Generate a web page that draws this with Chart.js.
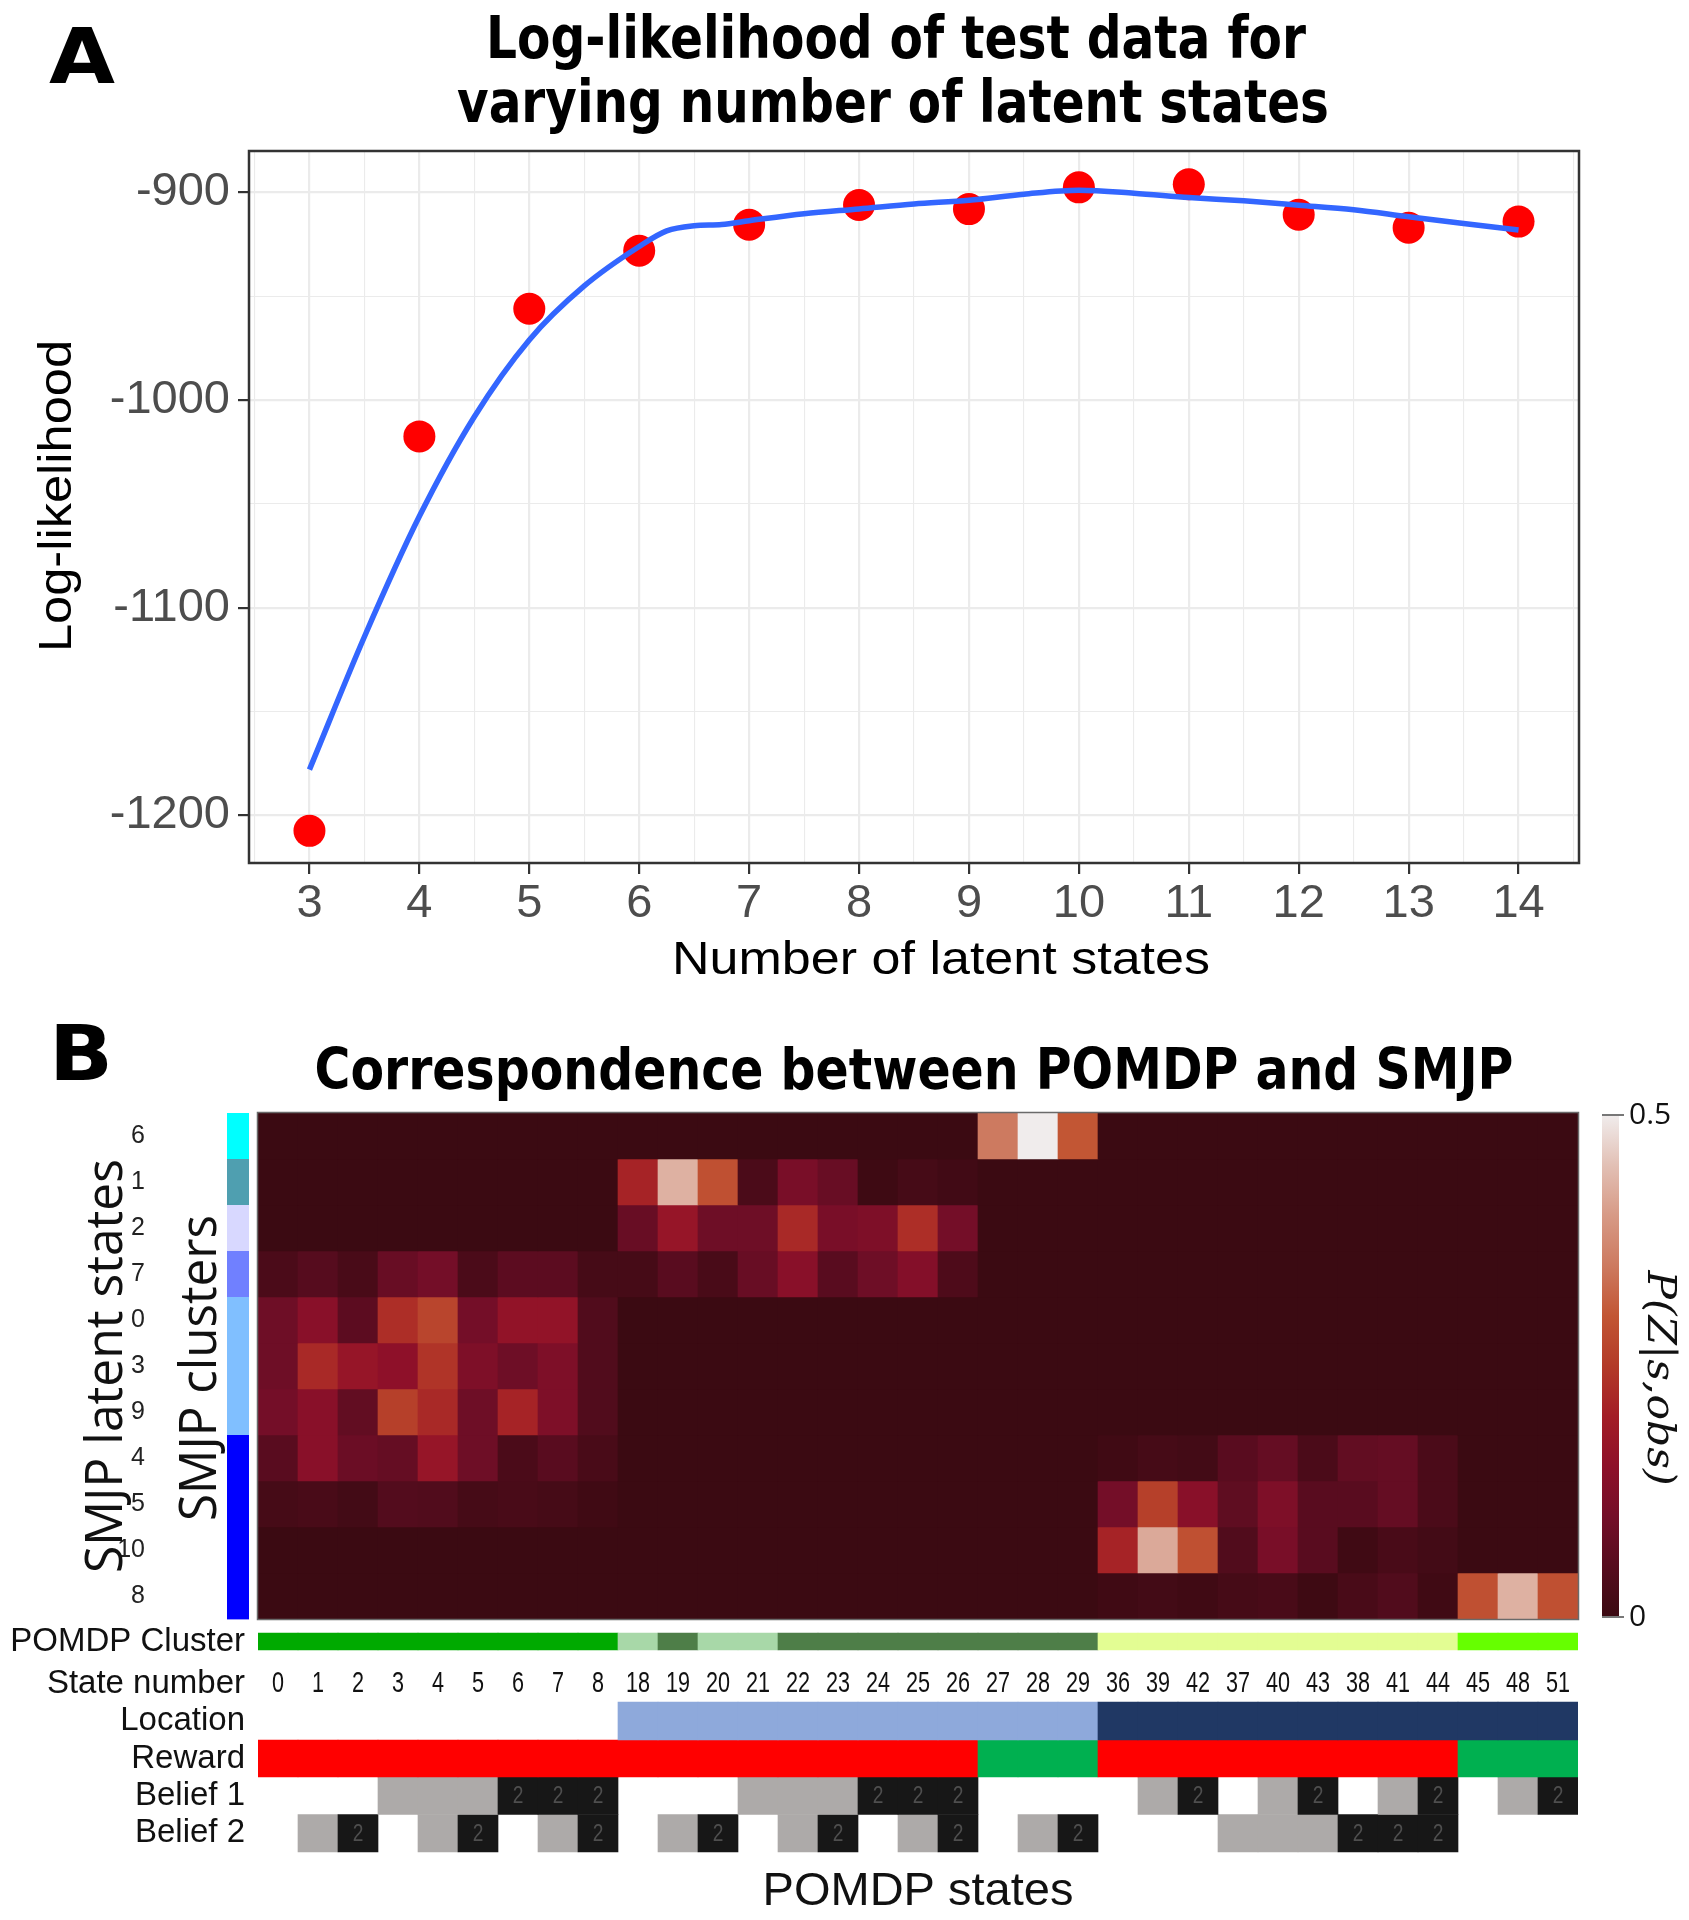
<!DOCTYPE html>
<html>
<head>
<meta charset="utf-8">
<title>Log-likelihood and POMDP/SMJP correspondence</title>
<script src="https://cdn.jsdelivr.net/npm/chart.js@4.4.1/dist/chart.umd.min.js"></script>
<style>
  html, body { margin:0; padding:0; background:#ffffff; overflow:hidden; }
  #page { position:relative; width:1689px; height:1920px; background:#ffffff; }
  #chartA { position:absolute; left:0; top:0; }
  #chartB { position:absolute; left:0; top:1000px; }
</style>
</head>
<body>
<div id="page">
  <canvas id="chartA" width="1689" height="1000"></canvas>
  <canvas id="chartB" width="1689" height="920"></canvas>
</div>
<script>
// ================= Panel A data =================
const latentStateCounts = [3, 4, 5, 6, 7, 8, 9, 10, 11, 12, 13, 14];
const testLogLikelihood = [-1207.5, -1017.5, -956, -928, -915.5, -906, -908, -897.5, -896, -910.7, -917, -914];
// loess smoother
const smoothX = [3, 3.5, 4, 4.5, 5, 5.5, 6, 6.25, 6.5, 6.75, 7, 7.5, 8, 8.5, 9, 9.5, 10, 10.5, 11, 11.5, 12, 12.5, 13, 13.5, 14];
const smoothY = [-1178, -1114, -1056, -1008, -971, -945, -926, -918.5, -916, -915.4, -913.6, -910.2, -907.9, -905.5, -903.7, -900.8, -898.9, -900.3, -902.4, -904, -906.1, -908.3, -911.7, -914.9, -918.1];
const llMajorTicks = [-1200, -1100, -1000, -900];
const llMinorTicks = [-1150, -1050, -950];
const stateMajorTicks = [3, 4, 5, 6, 7, 8, 9, 10, 11, 12, 13, 14];
const stateMinorTicks = [2.5, 3.5, 4.5, 5.5, 6.5, 7.5, 8.5, 9.5, 10.5, 11.5, 12.5, 13.5, 14.5];

// ================= Panel B data =================
const pomdpStateLabels = ['0','1','2','3','4','5','6','7','8','18','19','20','21','22','23','24','25','26','27','28','29','36','39','42','37','40','43','38','41','44','45','48','51'];
const smjpLatentStates = ['6','1','2','7','0','3','9','4','5','10','8'];
const smjpClusterColors = ['#00FFFF','#4F9FB0','#D8D8FF','#7080FF','#80BFFF','#80BFFF','#80BFFF','#0000FF','#0000FF','#0000FF','#0000FF'];
// P(Z | s, obs): one row per SMJP latent state (top to bottom), one value per POMDP state column
const pzRows = [
  [0,0,0,0,0,0,0,0,0, 0,0,0,0,0,0,0,0,0, 0.35,0.5,0.3, 0,0,0,0,0,0,0,0,0, 0,0,0],
  [0,0,0,0,0,0,0,0,0, 0.21,0.43,0.29,0.03,0.11,0.08,0.005,0.02,0.012, 0,0,0, 0,0,0,0,0,0,0,0,0, 0,0,0],
  [0,0,0,0,0,0,0,0,0, 0.08,0.17,0.09,0.09,0.22,0.11,0.12,0.23,0.1, 0,0,0, 0,0,0,0,0,0,0,0,0, 0,0,0],
  [0.03,0.05,0.025,0.08,0.1,0.03,0.06,0.06,0.02, 0.02,0.055,0.025,0.08,0.14,0.055,0.09,0.13,0.035, 0,0,0, 0,0,0,0,0,0,0,0,0, 0,0,0],
  [0.09,0.14,0.06,0.23,0.27,0.1,0.16,0.16,0.04, 0,0,0,0,0,0,0,0,0, 0,0,0, 0,0,0,0,0,0,0,0,0, 0,0,0],
  [0.09,0.22,0.17,0.15,0.24,0.12,0.09,0.12,0.04, 0,0,0,0,0,0,0,0,0, 0,0,0, 0,0,0,0,0,0,0,0,0, 0,0,0],
  [0.1,0.14,0.07,0.26,0.22,0.09,0.21,0.12,0.04, 0,0,0,0,0,0,0,0,0, 0,0,0, 0,0,0,0,0,0,0,0,0, 0,0,0],
  [0.055,0.14,0.085,0.075,0.17,0.09,0.03,0.055,0.025, 0,0,0,0,0,0,0,0,0, 0,0,0, 0.01,0.02,0.015,0.055,0.075,0.03,0.07,0.075,0.03, 0,0,0],
  [0.02,0.025,0.015,0.045,0.04,0.02,0.025,0.02,0.01, 0,0,0,0,0,0,0,0,0, 0,0,0, 0.1,0.26,0.14,0.065,0.12,0.055,0.055,0.075,0.03, 0,0,0],
  [0,0,0,0,0,0,0,0,0, 0,0,0,0,0,0,0,0,0, 0,0,0, 0.21,0.42,0.29,0.04,0.11,0.055,0.01,0.025,0.015, 0,0,0],
  [0,0,0,0,0,0,0,0,0, 0,0,0,0,0,0,0,0,0, 0,0,0, 0.01,0.015,0.01,0.02,0.025,0.005,0.025,0.04,0.01, 0.29,0.43,0.29]
];
const pomdpClusterIds = [1,1,1,1,1,1,1,1,1, 2,3,2,2,3,3,3,3,3,3,3,3, 4,4,4,4,4,4,4,4,4, 5,5,5];
const pomdpClusterPalette = ['#FFFFFF','#00AA00','#A8D8A8','#4E7E48','#E3FD93','#66FF00'];
const locationIds = [0,0,0,0,0,0,0,0,0, 1,1,1,1,1,1,1,1,1,1,1,1, 2,2,2,2,2,2,2,2,2,2,2,2];
const locationPalette = ['rgba(0,0,0,0)','#8EA9DB','#203864'];
const rewardIds = [0,0,0,0,0,0,0,0,0, 0,0,0,0,0,0,0,0,0, 1,1,1, 0,0,0,0,0,0,0,0,0, 1,1,1];
const rewardPalette = ['#FF0000','#00B050'];
const belief1 = [0,0,0,1,1,1,2,2,2, 0,0,0,1,1,1,2,2,2, 0,0,0, 0,1,2,0,1,2,0,1,2, 0,1,2];
const belief2 = [0,1,2,0,1,2,0,1,2, 0,1,2,0,1,2,0,1,2, 0,1,2, 0,0,0,1,1,1,2,2,2, 0,0,0];
const beliefPalette = ['rgba(0,0,0,0)','#ADAAA9','#171717'];
const pzColorbarTicks = [0, 0.5];
const annoRowLabels = ['POMDP Cluster','State number','Location','Reward','Belief 1','Belief 2'];

// colour map for P(Z|s,obs)
const pzColorStops = [
  [0.00,'#3B0A12'],[0.05,'#560C1E'],[0.10,'#740E28'],[0.15,'#8E1029'],[0.20,'#A31D26'],
  [0.25,'#B33A28'],[0.30,'#C25634'],[0.35,'#CD7A60'],[0.40,'#D79A86'],[0.45,'#E2C0B5'],[0.50,'#F0ECEC']
];

// ================= helpers =================
const SANS = "'Liberation Sans', Arial, Helvetica, sans-serif";
function hexRgb(h){ h=h.replace('#',''); return [parseInt(h.slice(0,2),16),parseInt(h.slice(2,4),16),parseInt(h.slice(4,6),16)]; }
function pzColor(v){
  v = Math.max(0, Math.min(0.5, v));
  for (let i = 1; i < pzColorStops.length; i++) {
    const [v1,c1] = pzColorStops[i];
    if (v <= v1) {
      const [v0,c0] = pzColorStops[i-1];
      const t = (v - v0) / (v1 - v0);
      const a = hexRgb(c0), b = hexRgb(c1);
      return 'rgb(' + a.map((x,k)=>Math.round(x + (b[k]-x)*t)).join(',') + ')';
    }
  }
  return pzColorStops[pzColorStops.length-1][1];
}
function drawText(ctx, text, x, y, o){
  ctx.save();
  ctx.font = o.font;
  ctx.fillStyle = o.color || '#000';
  ctx.textAlign = o.align || 'center';
  ctx.textBaseline = o.baseline || 'middle';
  ctx.translate(x, y);
  if (o.rotate) ctx.rotate(o.rotate);
  let sx = o.scaleX || 1;
  if (o.width) sx = o.width / ctx.measureText(text).width;
  ctx.scale(sx, 1);
  ctx.fillText(text, 0, 0);
  ctx.restore();
}

// ================= Panel A =================
const panelAPlugin = {
  id: 'panelA',
  afterDraw(chart){
    const ctx = chart.ctx, a = chart.chartArea;
    ctx.save();
    ctx.strokeStyle = '#333333'; ctx.lineWidth = 2.5;
    ctx.strokeRect(a.left, a.top, a.right - a.left, a.bottom - a.top);
    ctx.restore();
    drawText(ctx, 'A', 82, 83, {font:"bold 77px 'DejaVu Sans', sans-serif", baseline:'alphabetic', width:66});
    drawText(ctx, 'Log-likelihood of test data for', 896, 58, {font:"bold 59px 'DejaVu Sans', sans-serif", baseline:'alphabetic', width:820});
    drawText(ctx, 'varying number of latent states', 893, 122, {font:"bold 59px 'DejaVu Sans', sans-serif", baseline:'alphabetic', width:872});
    drawText(ctx, 'Number of latent states', 941, 974, {font:'46px ' + SANS, baseline:'alphabetic', width:538});
    drawText(ctx, 'Log-likelihood', 71, 496, {font:'46px ' + SANS, baseline:'alphabetic', width:312, rotate:-Math.PI/2});
  }
};

const isMajorX = c => c.tick && stateMajorTicks.includes(c.tick.value);
const isMajorY = c => c.tick && llMajorTicks.includes(c.tick.value);

new Chart(document.getElementById('chartA'), {
  type: 'scatter',
  data: {
    datasets: [
      {
        type: 'line', label: 'loess fit',
        data: smoothX.map((x, i) => ({x, y: smoothY[i]})),
        borderColor: '#3366FF', borderWidth: 5.5, pointRadius: 0, fill: false,
        cubicInterpolationMode: 'monotone', order: 0
      },
      {
        type: 'scatter', label: 'test log-likelihood',
        data: latentStateCounts.map((x, i) => ({x, y: testLogLikelihood[i]})),
        backgroundColor: '#FF0000', borderWidth: 0, pointRadius: 16, pointHoverRadius: 16, order: 1
      }
    ]
  },
  options: {
    responsive: false, animation: false, devicePixelRatio: 1,
    layout: { autoPadding: false, padding: { left: 0, right: 110, top: 151, bottom: 0 } },
    plugins: { legend: { display: false }, tooltip: { enabled: false }, title: { display: false } },
    scales: {
      x: {
        type: 'linear', min: 2.45, max: 14.55,
        afterBuildTicks: s => { s.ticks = stateMajorTicks.concat(stateMinorTicks).sort((p, q) => p - q).map(v => ({value: v})); },
        afterFit: s => { s.height = 137; },
        ticks: { autoSkip: false, maxRotation: 0, padding: 2, color: '#4D4D4D', font: {family: SANS, size: 47},
                 callback: v => stateMajorTicks.includes(v) ? String(v) : '' },
        grid: { color: '#EBEBEB', lineWidth: c => isMajorX(c) ? 2.2 : 1.1, drawTicks: true, tickLength: 11, tickWidth: 2.2,
                tickColor: c => isMajorX(c) ? '#333333' : 'rgba(0,0,0,0)' },
        border: { display: false }
      },
      y: {
        type: 'linear', min: -1223, max: -880,
        afterBuildTicks: s => { s.ticks = llMajorTicks.concat(llMinorTicks).sort((p, q) => p - q).map(v => ({value: v})); },
        afterFit: s => { s.width = 249; },
        ticks: { autoSkip: false, padding: 8, color: '#4D4D4D', font: {family: SANS, size: 47},
                 callback: v => llMajorTicks.includes(v) ? String(v) : '' },
        grid: { color: '#EBEBEB', lineWidth: c => isMajorY(c) ? 2.2 : 1.1, drawTicks: true, tickLength: 11, tickWidth: 2.2,
                tickColor: c => isMajorY(c) ? '#333333' : 'rgba(0,0,0,0)' },
        border: { display: false }
      }
    }
  },
  plugins: [panelAPlugin]
});

// ================= Panel B =================
// vertical extents of the annotation bands (axis units below the heatmap rows 0..11)
const bandCluster = [-0.674, -0.304];
const bandStateRow = -1.413;
const bandLocation = [-2.63, -1.804];
const bandReward = [-3.435, -2.63];
const bandBelief1 = [-4.25, -3.435];
const bandBelief2 = [-5.065, -4.25];
const annoLabelValues = [
  (bandCluster[0] + bandCluster[1]) / 2, bandStateRow,
  (bandLocation[0] + bandLocation[1]) / 2, (bandReward[0] + bandReward[1]) / 2,
  (bandBelief1[0] + bandBelief1[1]) / 2, (bandBelief2[0] + bandBelief2[1]) / 2
];

const barCommon = { grouped: false, barPercentage: 1, categoryPercentage: 1, borderWidth: 0 };
const nRows = smjpLatentStates.length;
const heatDatasets = pzRows.map((vals, r) => Object.assign({
  type: 'bar', label: 'SMJP ' + smjpLatentStates[r], xAxisID: 'x', yAxisID: 'y',
  data: vals.map(() => [nRows - 1 - r, nRows - r]),
  backgroundColor: vals.map(pzColor)
}, barCommon));

function bandDataset(label, band, colors){
  return Object.assign({ type: 'bar', label, xAxisID: 'x', yAxisID: 'y',
    data: pomdpStateLabels.map(() => band.slice()), backgroundColor: colors }, barCommon);
}
const annoDatasets = [
  bandDataset('POMDP Cluster', bandCluster, pomdpClusterIds.map(i => pomdpClusterPalette[i])),
  bandDataset('Location', bandLocation, locationIds.map(i => locationPalette[i])),
  bandDataset('Reward', bandReward, rewardIds.map(i => rewardPalette[i])),
  bandDataset('Belief 1', bandBelief1, belief1.map(i => beliefPalette[i])),
  bandDataset('Belief 2', bandBelief2, belief2.map(i => beliefPalette[i]))
];

const panelBPlugin = {
  id: 'panelB',
  afterDatasetsDraw(chart){
    const ctx = chart.ctx;
    const xs = chart.scales.x, ys = chart.scales.y;
    const left = chart.chartArea.left, right = chart.chartArea.right;
    const hTop = ys.getPixelForValue(nRows), hBot = ys.getPixelForValue(0);
    // heatmap frame
    ctx.save();
    ctx.strokeStyle = '#6A6A6A'; ctx.lineWidth = 1.5;
    ctx.strokeRect(left - 0.5, hTop - 0.5, right - left + 1, hBot - hTop + 1);
    ctx.restore();
    // SMJP cluster colour strip
    smjpClusterColors.forEach((c, r) => {
      const y0 = ys.getPixelForValue(nRows - r), y1 = ys.getPixelForValue(nRows - 1 - r);
      ctx.fillStyle = c;
      ctx.fillRect(227, y0, 22, y1 - y0 + 0.4);
    });
    // annotation row labels
    annoRowLabels.forEach((lab, i) => {
      drawText(ctx, lab, 245, ys.getPixelForValue(annoLabelValues[i]), {font: '33px ' + SANS, color: '#111', align: 'right'});
    });
    // state numbers row
    const yState = ys.getPixelForValue(bandStateRow);
    pomdpStateLabels.forEach((lab, i) => {
      drawText(ctx, lab, xs.getPixelForValue(i), yState, {font: '30px ' + SANS, color: '#111', scaleX: 0.72});
    });
    // "2" marks on black belief cells
    [['Belief 1', belief1], ['Belief 2', belief2]].forEach(([lab, arr]) => {
      const di = chart.data.datasets.findIndex(d => d.label === lab);
      const meta = chart.getDatasetMeta(di);
      arr.forEach((v, i) => {
        if (v === 2) {
          const el = meta.data[i];
          drawText(ctx, '2', el.x, (el.y + el.base) / 2 + 1, {font: '24px ' + SANS, color: '#4E4E4E', scaleX: 0.8});
        }
      });
    });
    // colour bar
    const cbTop = hTop + 2, cbBot = hBot - 2, cbX = 1602, cbW = 17;
    const g = ctx.createLinearGradient(0, cbBot, 0, cbTop);
    pzColorStops.forEach(([v, c]) => g.addColorStop(v / 0.5, c));
    ctx.fillStyle = g;
    ctx.fillRect(cbX, cbTop, cbW, cbBot - cbTop);
    pzColorbarTicks.forEach(v => {
      const yy = cbBot - (cbBot - cbTop) * v / 0.5;
      ctx.fillStyle = '#777';
      ctx.fillRect(cbX, yy - 1, cbW + 5, 2);
      drawText(ctx, String(v), 1629, yy, {font: "30px 'Open Sans', " + SANS, color: '#111', align: 'left'});
    });
    drawText(ctx, 'P(Z|s,obs)', 1648, (cbTop + cbBot) / 2 + 12, {font: "italic 40px 'DejaVu Serif', 'Liberation Serif', serif", color: '#111', baseline: 'alphabetic', width: 215, rotate: Math.PI / 2});
    // side titles
    const hMid = (hTop + hBot) / 2;
    drawText(ctx, 'SMJP latent states', 122, hMid, {font: "52px 'Open Sans', " + SANS, color: '#111', baseline: 'alphabetic', width: 414, rotate: -Math.PI / 2});
    drawText(ctx, 'SMJP clusters', 216, hMid + 2, {font: "52px 'Open Sans', " + SANS, color: '#111', baseline: 'alphabetic', width: 306, rotate: -Math.PI / 2});
  },
  afterDraw(chart){
    const ctx = chart.ctx;
    drawText(ctx, 'B', 81, 80, {font: "bold 77px 'DejaVu Sans', sans-serif", baseline: 'alphabetic', width: 64});
    drawText(ctx, 'Correspondence between POMDP and SMJP', 914, 89, {font: "bold 57px 'DejaVu Sans', sans-serif", baseline: 'alphabetic', width: 1199});
  }
};

new Chart(document.getElementById('chartB'), {
  type: 'bar',
  data: { labels: pomdpStateLabels, datasets: heatDatasets.concat(annoDatasets) },
  options: {
    responsive: false, animation: false, devicePixelRatio: 1,
    layout: { autoPadding: false, padding: { left: 0, right: 111, top: 113, bottom: 0 } },
    plugins: { legend: { display: false }, tooltip: { enabled: false }, title: { display: false } },
    scales: {
      x: {
        type: 'category', position: 'bottom',
        ticks: { display: false }, grid: { display: false }, border: { display: false },
        title: { display: true, text: 'POMDP states', color: '#111', font: {family: SANS, size: 47}, padding: {top: 0, bottom: 0} },
        afterFit: s => { s.height = 59.5; }
      },
      y: {
        type: 'linear', position: 'left',
        min: -5.25, max: 11,
        afterBuildTicks: s => { s.ticks = smjpLatentStates.map((_, r) => ({value: nRows - 0.5 - r})); },
        afterFit: s => { s.width = 258; },
        ticks: { autoSkip: false, padding: 1, color: '#222', font: {family: SANS, size: 25},
                 callback: v => smjpLatentStates[nRows - 1 - Math.floor(v)] },
        grid: { display: true, drawOnChartArea: false, drawTicks: true, tickLength: 112, tickColor: 'rgba(0,0,0,0)', color: 'rgba(0,0,0,0)' },
        border: { display: false }
      }
    }
  },
  plugins: [panelBPlugin]
});
</script>
</body>
</html>
